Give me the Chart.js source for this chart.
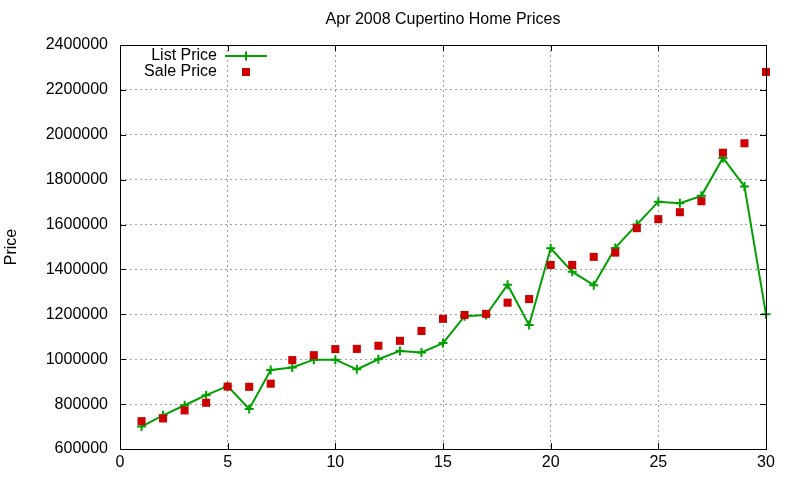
<!DOCTYPE html>
<html>
<head>
<meta charset="utf-8">
<script src="https://cdn.jsdelivr.net/npm/chart.js@4/dist/chart.umd.min.js"></script>
<style>
  html, body { margin: 0; padding: 0; background: #fff; }
  #wrap { width: 800px; height: 480px; }
</style>
</head>
<body>
<div id="wrap"><canvas id="grafico" width="800" height="480"></canvas></div>
<script>
// --- dados ---
const dias = [1, 2, 3, 4, 5, 6, 7, 8, 9, 10, 11, 12, 13, 14, 15, 16, 17, 18, 19, 20, 21, 22, 23, 24, 25, 26, 27, 28, 29, 30];
const precoLista = [700000, 750000, 795000, 840000, 880000, 778000, 952000, 963000, 998000, 998000,
                    955000, 1000000, 1037000, 1030000, 1072000, 1192000, 1197000, 1332000, 1152000, 1494000,
                    1390000, 1330000, 1496000, 1600000, 1702000, 1695000, 1728000, 1897000, 1770000, 1200000];
const precoVenda = [724000, 736000, 772000, 806000, 878000, 877000, 891000, 996000, 1018000, 1045000,
                    1046000, 1060000, 1082000, 1126000, 1180000, 1197000, 1202000, 1252000, 1268000, 1420000,
                    1420000, 1456000, 1475000, 1584000, 1624000, 1655000, 1704000, 1920000, 1962000, 2280000];
const ticksX = [0, 5, 10, 15, 20, 25, 30];
const ticksY = [600000, 800000, 1000000, 1200000, 1400000, 1600000, 1800000, 2000000, 2200000, 2400000];

const titulo = 'Apr 2008 Cupertino Home Prices';
const FONTE = '"Liberation Sans", Arial, sans-serif';
const VERDE = '#00a000';
const VERMELHO = '#cc0000';

// borda preta com marcas para dentro nos quatro lados (estilo gnuplot), título e legenda
const bordaPlugin = {
  id: 'borda',
  afterDraw(chart) {
    const { ctx, chartArea: a, scales } = chart;
    const tl = 6;
    ctx.save();
    ctx.strokeStyle = '#000';
    ctx.lineWidth = 1;
    ctx.beginPath();
    ticksY.forEach(v => {
      const y = Math.round(scales.y.getPixelForValue(v)) + 0.5;
      ctx.moveTo(a.left, y); ctx.lineTo(a.left + tl, y);
      ctx.moveTo(a.right, y); ctx.lineTo(a.right - tl, y);
    });
    ticksX.forEach(v => {
      const x = Math.round(scales.x.getPixelForValue(v)) + 0.5;
      ctx.moveTo(x, a.bottom); ctx.lineTo(x, a.bottom - tl);
      ctx.moveTo(x, a.top); ctx.lineTo(x, a.top + tl);
    });
    ctx.stroke();
    ctx.strokeRect(Math.round(a.left) + 0.5, Math.round(a.top) + 0.5,
                   Math.round(a.right - a.left), Math.round(a.bottom - a.top));

    // título centrado sobre a área do gráfico
    ctx.font = '16px ' + FONTE;
    ctx.fillStyle = '#000';
    ctx.textAlign = 'center';
    ctx.textBaseline = 'middle';
    ctx.fillText(titulo, (a.left + a.right) / 2, 20);

    // legenda
    const ds = chart.data.datasets;
    ctx.textAlign = 'right';
    const xTexto = a.left + 97;
    const xAmostra = a.left + 126;
    ds.forEach((d, i) => {
      const y = a.top + 11 + i * 16;
      ctx.fillText(d.label, xTexto, y);
      if (d.showLine) {
        ctx.strokeStyle = d.borderColor;
        ctx.lineWidth = 2;
        ctx.beginPath();
        ctx.moveTo(xAmostra - 21, y); ctx.lineTo(xAmostra + 21, y);
        ctx.moveTo(xAmostra, y - 4.5); ctx.lineTo(xAmostra, y + 4.5);
        ctx.stroke();
      } else {
        ctx.fillStyle = d.backgroundColor;
        ctx.fillRect(xAmostra - 4, y - 4, 8, 8);
        ctx.fillStyle = '#000';
      }
    });
    ctx.restore();
  }
};

const ctx = document.getElementById('grafico').getContext('2d');
new Chart(ctx, {
  type: 'scatter',
  data: {
    datasets: [
      {
        label: 'List Price',
        data: dias.map((d, i) => ({ x: d, y: precoLista[i] })),
        showLine: true,
        borderColor: VERDE,
        backgroundColor: VERDE,
        borderWidth: 2,
        tension: 0,
        pointStyle: 'cross',
        pointRadius: 4.5,
        pointBorderWidth: 2,
        pointBorderColor: VERDE,
        order: 2,
        clip: 10
      },
      {
        label: 'Sale Price',
        data: dias.map((d, i) => ({ x: d, y: precoVenda[i] })),
        showLine: false,
        borderColor: VERMELHO,
        backgroundColor: VERMELHO,
        pointStyle: 'rect',
        pointRadius: 5.7,
        pointBorderWidth: 0,
        order: 1,
        clip: 10
      }
    ]
  },
  options: {
    responsive: false,
    devicePixelRatio: 1,
    animation: false,
    layout: { padding: { top: 45, right: 34, bottom: 0, left: 0 } },
    plugins: {
      legend: { display: false },
      tooltip: { enabled: false },
      title: { display: false }
    },
    scales: {
      x: {
        type: 'linear',
        min: 0,
        max: 30,
        afterFit: s => { s.height = 31; },
        afterBuildTicks: s => { s.ticks = ticksX.map(v => ({ value: v })); },
        ticks: {
          color: '#000',
          font: { family: FONTE, size: 16 },
          padding: 4,
          maxRotation: 0
        },
        grid: {
          drawTicks: false,
          color: '#a0a0a0',
          lineWidth: 1
        },
        border: { display: false, dash: [2, 3] }
      },
      y: {
        type: 'linear',
        min: 600000,
        max: 2400000,
        afterFit: s => { s.width = 120; },
        afterBuildTicks: s => { s.ticks = ticksY.map(v => ({ value: v })); },
        ticks: {
          color: '#000',
          font: { family: FONTE, size: 16 },
          padding: 12,
          callback: v => String(v)
        },
        grid: {
          drawTicks: false,
          color: '#a0a0a0',
          lineWidth: 1
        },
        border: { display: false, dash: [2, 3] },
        title: {
          display: true,
          text: 'Price',
          color: '#000',
          font: { family: FONTE, size: 16 },
          padding: { top: 2, bottom: 0 }
        }
      }
    }
  },
  plugins: [bordaPlugin]
});
</script>
</body>
</html>
